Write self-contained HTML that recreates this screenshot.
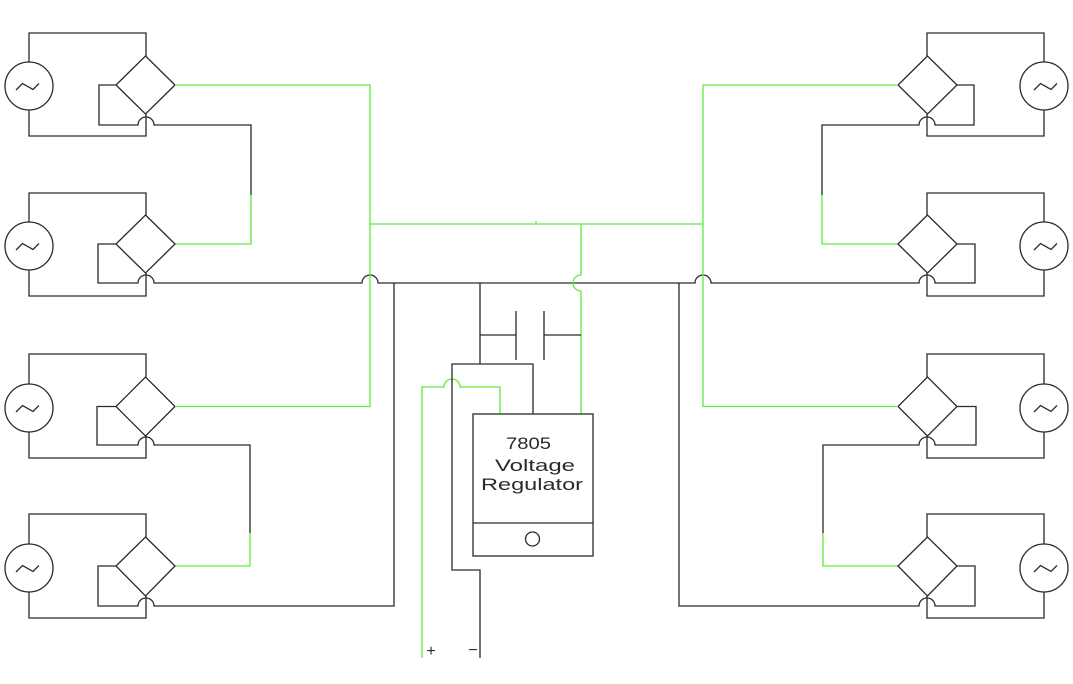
<!DOCTYPE html>
<html>
<head>
<meta charset="utf-8">
<style>
html,body{margin:0;padding:0;background:#fff;}
svg{display:block;}
text{font-family:"Liberation Sans",sans-serif;fill:#2a2a2a;}
</style>
</head>
<body>
<svg width="1073" height="684" viewBox="0 0 1073 684" xmlns="http://www.w3.org/2000/svg">
<defs>
<g id="half" fill="none" stroke-linejoin="miter">
  <!-- Unit 1 -->
  <g stroke="#2a2a2a" stroke-width="1.3">
    <circle cx="29" cy="86" r="24"/>
    <path d="M29,62 V33 H146 V56"/>
    <path d="M29,110 V136 H146 V114"/>
    <path d="M145.5,56 L175,85 L145.5,114 L116,85 Z"/>
    <path d="M116,85 H99 V125 H138 A8,8 0 0 1 154,125 H251 V195"/>
  </g>
  <path d="M251,195 V244 H175" stroke="#5fec3a" stroke-width="1.3" fill="none"/>
  <!-- Unit 2 -->
  <g stroke="#2a2a2a" stroke-width="1.3">
    <circle cx="29" cy="246" r="24"/>
    <path d="M29,222 V193 H146 V215"/>
    <path d="M29,270 V296 H146 V273"/>
    <path d="M145.5,215 L175,244 L145.5,273 L116,244 Z"/>
    <path d="M116,244 H98 V283 H138 A8,8 0 0 1 154,283 H362 A8,8 0 0 1 378,283 H536.5"/>
  </g>
  <!-- Unit 3 -->
  <g stroke="#2a2a2a" stroke-width="1.3">
    <circle cx="29" cy="408" r="24"/>
    <path d="M29,384 V354 H146 V377"/>
    <path d="M29,432 V458 H146 V436"/>
    <path d="M145.5,377 L175,406.5 L145.5,436 L116,406.5 Z"/>
    <path d="M116,406.5 H97 V445 H138 A8,8 0 0 1 154,445 H250 V533"/>
  </g>
  <path d="M250,533 V566 H175" stroke="#5fec3a" stroke-width="1.3" fill="none"/>
  <!-- Unit 4 -->
  <g stroke="#2a2a2a" stroke-width="1.3">
    <circle cx="29" cy="568" r="24"/>
    <path d="M29,544 V514 H146 V537"/>
    <path d="M29,592 V618 H146 V596"/>
    <path d="M145.5,537 L175,566 L145.5,596 L116,566 Z"/>
    <path d="M116,566 H98 V606 H138 A8,8 0 0 1 154,606 H394 V283"/>
  </g>
  <!-- Big green loop -->
  <path d="M175,85 H370 V406.5 H175" stroke="#5fec3a" stroke-width="1.3" fill="none"/>
</g>
</defs>

<use href="#half"/>
<use href="#half" transform="translate(1073,0) scale(-1,1)"/>

<!-- tildes (not mirrored) -->
<g fill="none" stroke="#2a2a2a" stroke-width="1.3">
  <polyline points="16,90 22.5,83.5 33,89.5 39,83.5"/>
  <polyline points="16,250 22.5,243.5 33,249.5 39,243.5"/>
  <polyline points="16,412 22.5,405.5 33,411.5 39,405.5"/>
  <polyline points="16,572 22.5,565.5 33,571.5 39,565.5"/>
  <polyline points="1034,90 1040.5,83.5 1051,89.5 1057,83.5"/>
  <polyline points="1034,250 1040.5,243.5 1051,249.5 1057,243.5"/>
  <polyline points="1034,412 1040.5,405.5 1051,411.5 1057,405.5"/>
  <polyline points="1034,572 1040.5,565.5 1051,571.5 1057,565.5"/>
</g>

<!-- center green lines -->
<g fill="none" stroke="#5fec3a" stroke-width="1.3">
  <path d="M370,224 H703"/>
  <path d="M536,221 V224"/>
  <path d="M581,224 V275 A8,8 0 0 0 581,291 V414"/>
  <path d="M422,658 V387 H444 A8,8 0 0 1 460,387 H500 V414"/>
</g>

<!-- center black lines -->
<g fill="none" stroke="#2a2a2a" stroke-width="1.3">
  <path d="M480,283 V364"/>
  <path d="M533,414 V364 H452 V570 H480 V658"/>
  <path d="M480,335 H516"/>
  <path d="M516,311 V360"/>
  <path d="M544,311 V360"/>
  <path d="M544,335 H581"/>
  <rect x="473" y="414" width="120" height="142"/>
  <path d="M473,523 H593"/>
  <circle cx="532.5" cy="539" r="7"/>
</g>

<text x="506" y="449" font-size="17" textLength="45" lengthAdjust="spacingAndGlyphs">7805</text>
<text x="495" y="471" font-size="17" textLength="80" lengthAdjust="spacingAndGlyphs">Voltage</text>
<text x="481" y="490" font-size="17" textLength="102" lengthAdjust="spacingAndGlyphs">Regulator</text>

<!-- plus / minus drawn as text -->
<text x="431" y="656" font-size="16" text-anchor="middle">+</text>
<text x="473" y="655" font-size="16" text-anchor="middle">−</text>
</svg>
</body>
</html>
